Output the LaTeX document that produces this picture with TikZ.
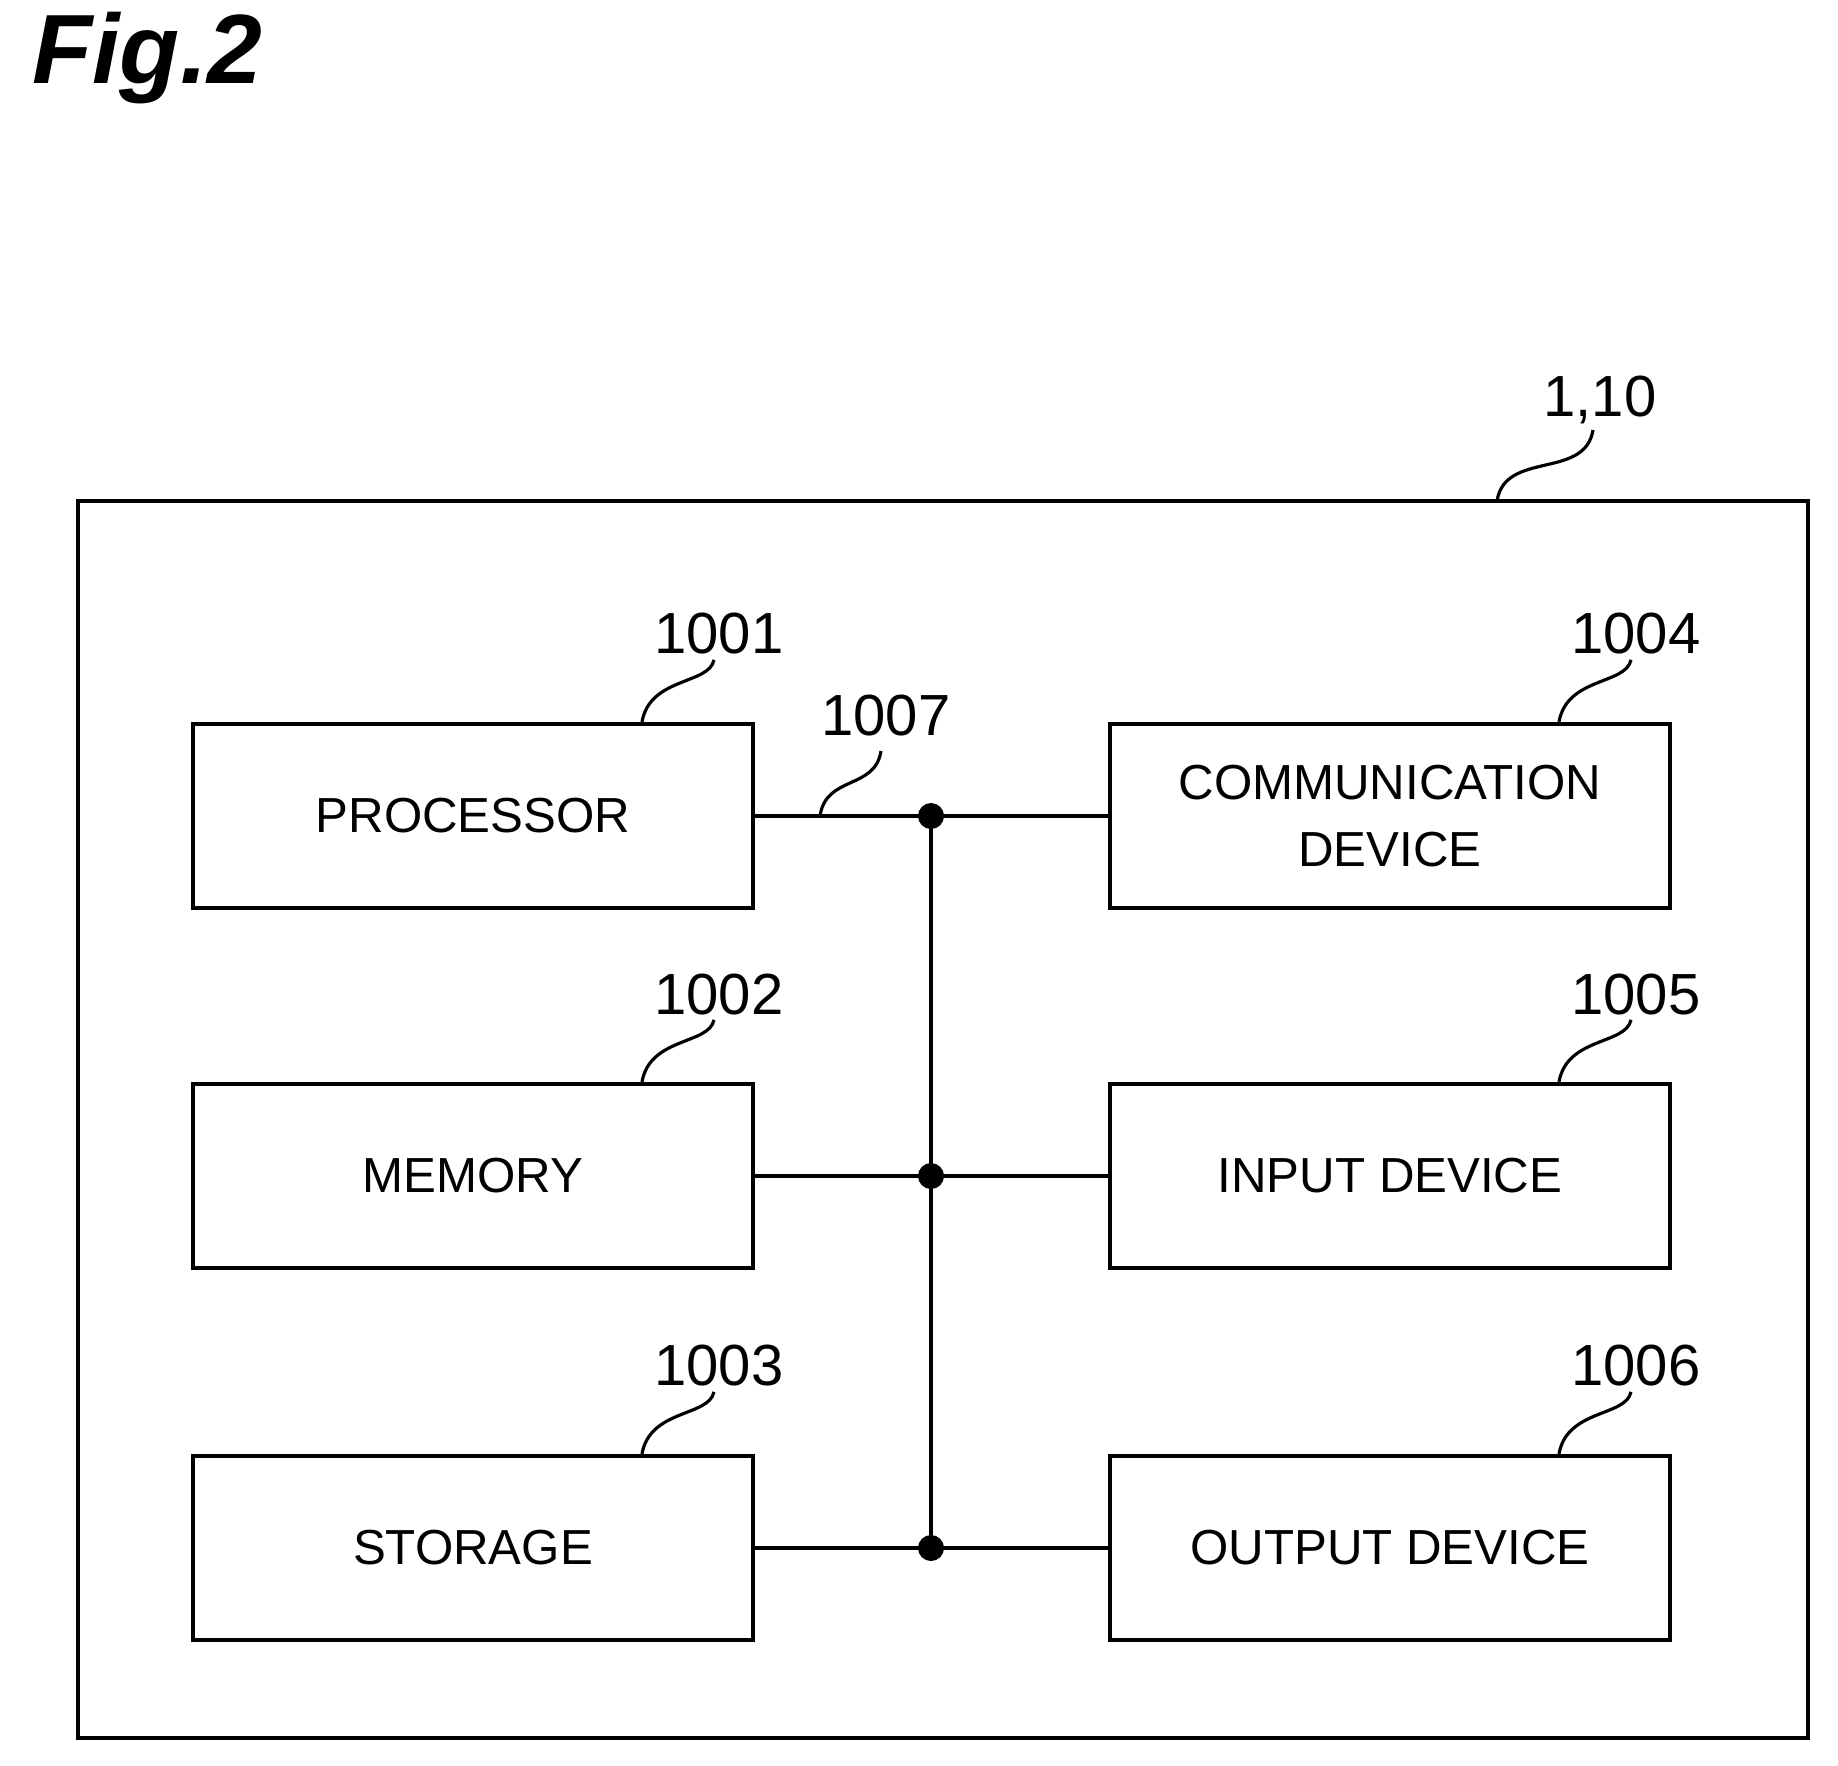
\documentclass[tikz,border=0pt]{standalone}
\usepackage{fontspec}
\setmainfont{Liberation Sans}
\usetikzlibrary{positioning}
\tikzset{
  unit/.style={draw, line width=1.2pt, minimum width=5.6cm, minimum height=1.84cm, font=\fontsize{14}{19}\selectfont, align=center},
  ref/.style={font=\fontsize{16.5}{20}\selectfont},
  lead/.style={line width=0.9pt},
  dot/.style={circle, fill=black, inner sep=0pt, minimum size=0.26cm}
}
\begin{document}
\begin{tikzpicture}[x=0.01cm, y=-0.01cm]
\useasboundingbox (0,0) rectangle (1838,1765);
 % title
 \node[font=\fontsize{28}{32}\selectfont\bfseries\itshape, anchor=west] (fig) at (20,58) {Fig.2};

 % outer frame
 \draw[line width=1.4pt] (78,501) rectangle (1808,1738);
 \node[ref] (reffrm) at (1600,400) {1,10};
 \draw[lead] (1497,501) .. controls (1505,450) and (1585,480) .. (1593,430);

 % left column
 \node[unit] (proc) at (473,816) {PROCESSOR};
 \node[unit] (mem) at (473,1176) {MEMORY};
 \node[unit] (stor) at (473,1548) {STORAGE};

 % right column
 \node[unit] (comm) at (1390,816) {COMMUNICATION\\DEVICE};
 \node[unit] (inp) at (1390,1176) {INPUT DEVICE};
 \node[unit] (outp) at (1390,1548) {OUTPUT DEVICE};

 % bus
 \node[dot] (j1) at (931,816) {};
 \node[dot] (j2) at (931,1176) {};
 \node[dot] (j3) at (931,1548) {};
 \draw[line width=1.4pt] (j1.center) -- (j3.center);
 \foreach \l/\j/\r in {proc/j1/comm, mem/j2/inp, stor/j3/outp} {
   \draw[line width=1pt] (\l.east) -- (\j.center) -- (\r.west);
 }

 % reference numerals
 \node[ref] (r1) at (719,634) {1001};
 \node[ref] (r2) at (719,995) {1002};
 \node[ref] (r3) at (719,1366) {1003};
 \node[ref] (r4) at (1636,634) {1004};
 \node[ref] (r5) at (1636,995) {1005};
 \node[ref] (r6) at (1636,1366) {1006};
 \node[ref] (r7) at (886,716) {1007};
 \foreach \b/\x in {proc/642, mem/642, stor/642, comm/1559, inp/1559, outp/1559} {
   \draw[lead] (\b.north -| \x,0) .. controls +(8,-45) and +(-5,25) .. ++(72,-62);
 }
 \draw[lead] (820,816) .. controls (826,775) and (875,790) .. (881,751);
\end{tikzpicture}
\end{document}
